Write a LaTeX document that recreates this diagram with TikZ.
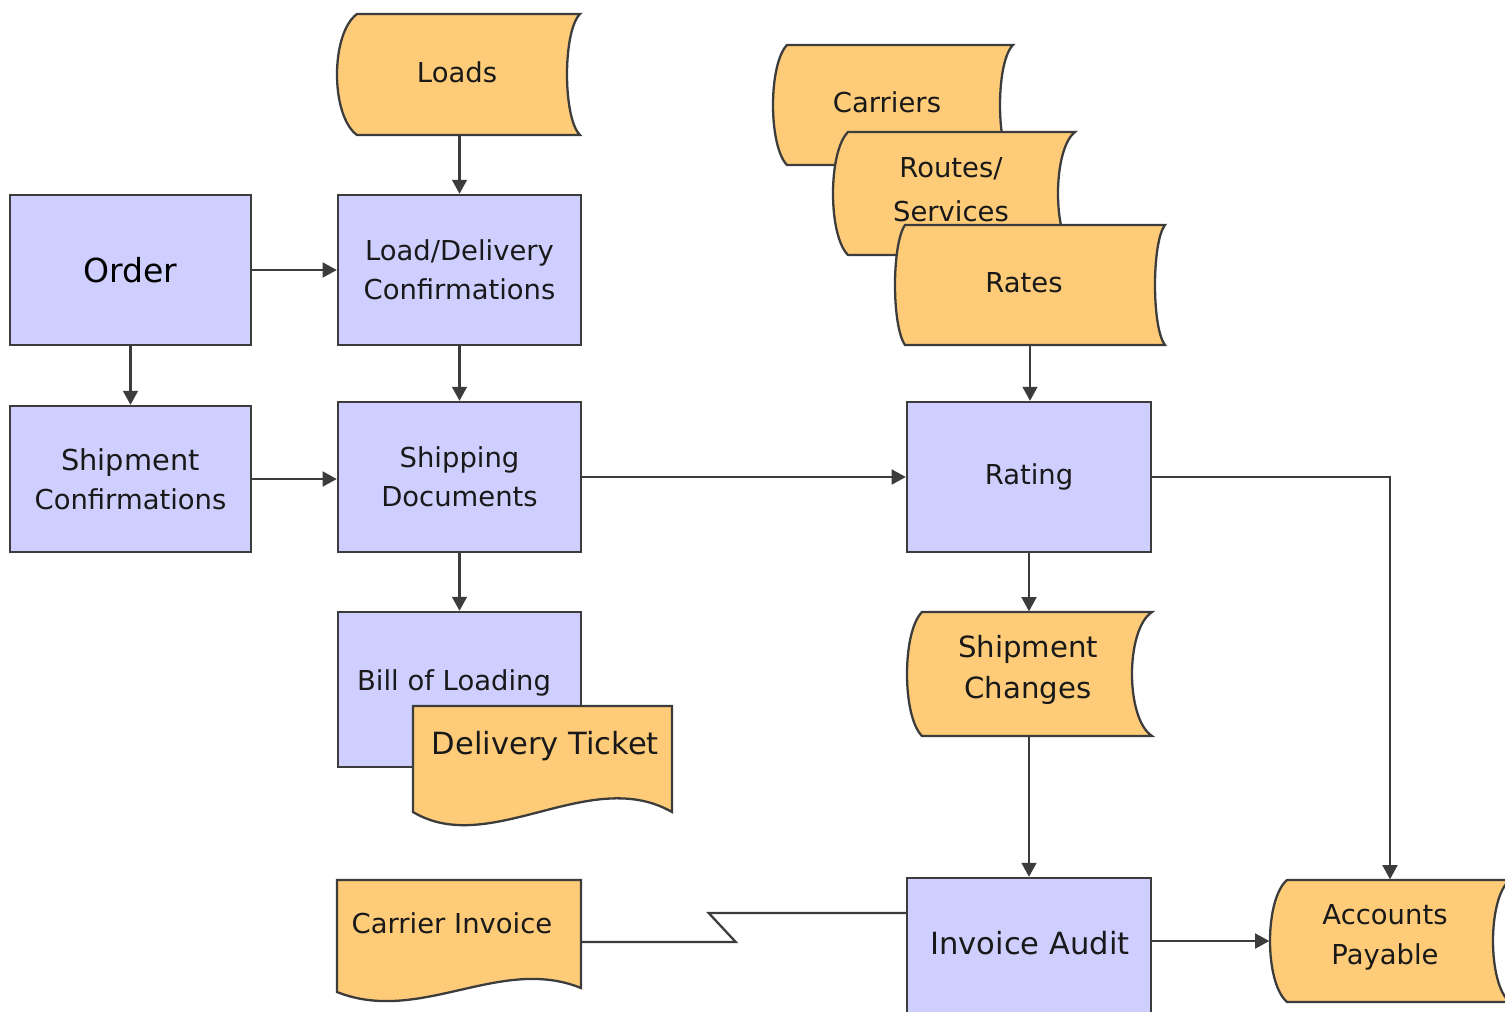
\documentclass[tikz,border=0pt]{standalone}
\usepackage{fontspec}
\setmainfont{DejaVu Sans}
\usetikzlibrary{arrows.meta,fit,calc}
\definecolor{boxblue}{HTML}{CFCFFF}
\definecolor{boxorange}{HTML}{FECB78}
\definecolor{edgecol}{HTML}{3C3C3C}
\tikzset{
  procbox/.style={draw=edgecol, fill=boxblue, line width=0.65pt, inner sep=0pt},
  datashape/.style={draw=edgecol, fill=boxorange, line width=0.65pt},
  lbl/.style={font=\fontsize{7.8}{11}\selectfont, align=center, text=black!90, inner sep=0pt},
  bigl/.style={lbl, font=\fontsize{8.7}{11}\selectfont},
  fitframe/.style={inner sep=0pt, draw=none},
  conn/.style={draw=edgecol, line width=0.65pt},
  arr/.style={conn, -{Triangle[length=4pt,width=4.2pt]}},
}
\newcommand\storeddata[7]{% name, x1 (bulge), x2 (right corner), y1, y2, left depth, right depth
  \path[datashape] ({#2+#6},#4) -- (#3,#4)
    .. controls ({#3-4/3*#7},{#4+(#5-#4)*0.14}) and ({#3-4/3*#7},{#5-(#5-#4)*0.14}) .. (#3,#5)
    -- ({#2+#6},#5)
    .. controls ({#2-#6/3},{#5-(#5-#4)*0.16}) and ({#2-#6/3},{#4+(#5-#4)*0.16}) .. cycle;
  \node[fitframe, fit={(#2,#4) (#3,#5)}] (#1) {};
}
\begin{document}
\begin{tikzpicture}[x=0.01cm, y=-0.01cm]
\clip (0,0) rectangle (1505,1011);
\fill[white] (0,0) rectangle (1505,1011);

% process boxes
\node[procbox, minimum width=2.41cm, minimum height=1.5cm] (order) at (130.5,270)
  {\fontsize{9.4}{11}\selectfont Order};
\node[procbox, lbl, minimum width=2.43cm, minimum height=1.5cm] (ldc) at (459.5,270)
  {Load/Delivery\\Confirmations};
\node[procbox, lbl, minimum width=2.41cm, minimum height=1.46cm] (shc) at (130.5,479)
  {\fontsize{8.2}{11}\selectfont Shipment\\Confirmations};
\node[procbox, lbl, minimum width=2.43cm, minimum height=1.5cm] (sdoc) at (459.5,477)
  {Shipping\\Documents};
\node[procbox, lbl, minimum width=2.44cm, minimum height=1.5cm] (rating) at (1029,477)
  {Rating};
\node[procbox, minimum width=2.43cm, minimum height=1.55cm] (bol) at (459.5,689.5) {};
\node[lbl] (bollbl) at (454,683) {Bill of Loading};
\node[procbox, minimum width=2.44cm, minimum height=1.52cm] (audit) at (1029,954) {};
\node[bigl] (auditlbl) at (1030,943) {Invoice Audit};

% stored data shapes
\storeddata{loads}{337}{580}{14}{135}{20}{13}
\node[lbl] (loadslbl) at (457,72) {Loads};
\storeddata{carriers}{773}{1013}{45}{165}{14}{13}
\node[lbl] (carrierslbl) at (887,102) {Carriers};
\storeddata{routes}{833}{1075}{132}{255}{15}{17}
\node[lbl, font=\fontsize{7.8}{12.5}\selectfont] (routeslbl) at (951,190) {Routes/\\Services};
\storeddata{rates}{895}{1165}{225}{345}{10}{10}
\node[lbl] (rateslbl) at (1024,283) {Rates};
\storeddata{shchg}{907}{1152}{612}{736}{15}{20}
\node[lbl, font=\fontsize{8.3}{11.8}\selectfont] (shchglbl) at (1028,670) {Shipment\\Changes};
\storeddata{ap}{1270}{1510}{880}{1002}{17}{17}
\node[lbl, font=\fontsize{7.8}{11.4}\selectfont] (aplbl) at (1385,937) {Accounts\\Payable};

% documents
\path[datashape] (413,706) -- (672,706) -- (672,812)
  .. controls (590,765) and (490,858) .. (413,812) -- cycle;
\node[fitframe, fit={(413,706) (672,827)}] (dt) {};
\node[bigl, anchor=west] (dtlbl) at (431,746) {Delivery Ticket};
\path[datashape] (337,880) -- (581,880) -- (581,988)
  .. controls (500,955) and (420,1025) .. (337,992) -- cycle;
\node[fitframe, fit={(337,880) (581,1004)}] (ci) {};
\node[lbl, anchor=west] (cilbl) at (351,923) {Carrier Invoice};

% connectors
\draw[arr] (ldc.north |- loads.south) -- (ldc.north);
\draw[arr] (order.east) -- (ldc.west);
\draw[arr] (order.south) -- (shc.north);
\draw[arr] (ldc.south) -- (sdoc.north);
\draw[arr] (shc.east) -- (shc.east -| sdoc.west);
\draw[arr] (sdoc.east) -- (rating.west);
\draw[arr] (sdoc.south) -- (bol.north);
\draw[arr] (rates.south) -- (rates.south |- rating.north);
\draw[arr] (rating.south) -- (rating.south |- shchg.north);
\draw[arr] (rating.south |- shchg.south) -- (rating.south |- audit.north);
\draw[arr] (rating.east) -| (ap.north);
\draw[arr] (ap.west -| audit.east) -- (ap.west);
\draw[conn] (ci.east) -- ++(154,0) -- ++(-27,-29) coordinate (lz) -- (lz -| audit.west);
\end{tikzpicture}
\end{document}
